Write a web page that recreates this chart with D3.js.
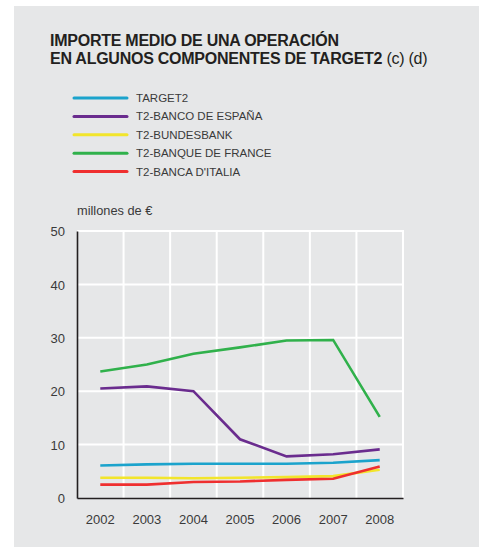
<!DOCTYPE html>
<html>
<head>
<meta charset="utf-8">
<script src="https://cdn.jsdelivr.net/npm/d3@7"></script>
<style>
  body { margin: 0; background: #fff; }
  text { font-family: "Liberation Sans", Arial, sans-serif; }
</style>
</head>
<body>
<svg id="chart"></svg>
<script>
const w = 479, h = 548;

// data (millones de euros)
const years = [2002, 2003, 2004, 2005, 2006, 2007, 2008];
const seriesNames = ['TARGET2', 'T2-BANCO DE ESPAÑA', 'T2-BUNDESBANK', 'T2-BANQUE DE FRANCE', "T2-BANCA D'ITALIA"];
const seriesColors = ['#1ba3cc', '#6a2c8e', '#f2e52b', '#30b14b', '#ef2f2f'];
const target2 = [6.1, 6.3, 6.4, 6.4, 6.4, 6.6, 7.1];
const espana = [20.5, 20.9, 20.0, 11.0, 7.8, 8.2, 9.1];
const bundesbank = [3.8, 3.8, 3.7, 3.8, 3.9, 4.1, 5.3];
const france = [23.7, 25.0, 27.0, 28.2, 29.5, 29.6, 15.2];
const italia = [2.5, 2.5, 3.0, 3.1, 3.4, 3.6, 5.9];
const yTicks = [0, 10, 20, 30, 40, 50];

const seriesValues = [target2, espana, bundesbank, france, italia];

const margins = { left: 77, right: 76, top: 231, bottom: 50 };

const chart = d3.select('#chart')
  .attr('width', w)
  .attr('height', h);

// grey panel
chart.append('rect')
  .attr('x', 14).attr('y', 6)
  .attr('width', w - 14).attr('height', h - 7)
  .style('fill', '#e6e7e8');

// TITLE
const title = chart.append('text')
  .attr('x', 50).attr('y', 46)
  .style('font-size', '16px')
  .style('letter-spacing', '-0.25px')
  .style('font-weight', 'bold')
  .style('fill', '#231f20');
title.append('tspan').text('IMPORTE MEDIO DE UNA OPERACIÓN');
const t2 = chart.append('text')
  .attr('x', 50).attr('y', 64)
  .style('font-size', '16px')
  .style('letter-spacing', '-0.25px')
  .style('fill', '#231f20');
t2.append('tspan').style('font-weight', 'bold').text('EN ALGUNOS COMPONENTES DE TARGET2');
t2.append('tspan').text(' (c) (d)');

// LEGEND
const legend = chart.append('g');
seriesNames.forEach((name, i) => {
  const yPos = 98 + i * 18.4;
  legend.append('line')
    .attr('x1', 74).attr('x2', 127)
    .attr('y1', yPos).attr('y2', yPos)
    .style('stroke', seriesColors[i])
    .style('stroke-width', 3)
    .style('stroke-linecap', 'round');
  legend.append('text')
    .attr('x', 136).attr('y', yPos + 4)
    .style('font-size', '11.5px')
    .style('fill', '#3a3a3a')
    .text(name);
});

// SCALES
const xScale = d3.scaleBand()
  .domain(years)
  .range([margins.left, w - margins.right]);

const yScale = d3.scaleLinear()
  .domain([0, 50])
  .range([h - margins.bottom, margins.top]);

// grid
chart.append('g')
  .selectAll('line')
  .data(yTicks.slice(1))
  .join('line')
  .attr('x1', margins.left).attr('x2', w - margins.right)
  .attr('y1', d => yScale(d)).attr('y2', d => yScale(d))
  .style('stroke', '#fff').style('stroke-width', 2);

chart.append('g')
  .selectAll('line')
  .data(years.slice(1).map(d => xScale(d)).concat([w - margins.right]))
  .join('line')
  .attr('x1', d => d).attr('x2', d => d)
  .attr('y1', yScale(50) - 1).attr('y2', yScale(0))
  .style('stroke', '#fff').style('stroke-width', 2);

// unit label
chart.append('text')
  .attr('x', margins.left).attr('y', 215)
  .style('font-size', '12.8px')
  .style('fill', '#3a3a3a')
  .text('millones de €');

// LINES
const line = d3.line()
  .x((d, i) => xScale(years[i]) + xScale.bandwidth() / 2)
  .y(d => yScale(d));

chart.append('g')
  .selectAll('path')
  .data(seriesValues)
  .join('path')
  .attr('d', d => line(d))
  .style('fill', 'none')
  .style('stroke', (d, i) => seriesColors[i])
  .style('stroke-width', 2.6)
  .style('stroke-linejoin', 'miter');

// AXES
const yAxis = chart.append('g')
  .attr('transform', `translate(${margins.left}, 0)`)
  .call(d3.axisLeft(yScale).tickValues(yTicks).tickSize(0).tickPadding(12));
yAxis.select('.domain').style('stroke', '#231f20').style('stroke-width', 1.6);
yAxis.selectAll('text').style('font-size', '13px').style('fill', '#3a3a3a').attr('dy', '0.36em');

const xAxis = chart.append('g')
  .attr('transform', `translate(0, ${yScale(0)})`)
  .call(d3.axisBottom(xScale).tickSize(0).tickPadding(17));
xAxis.select('.domain').style('stroke', '#231f20').style('stroke-width', 1.6);
xAxis.selectAll('text').style('font-size', '13px').style('fill', '#3a3a3a');
</script>
</body>
</html>
